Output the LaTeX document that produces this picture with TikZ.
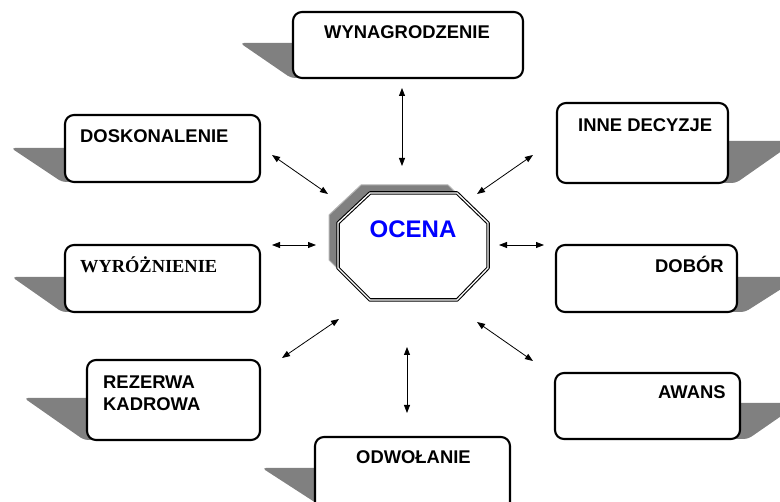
\documentclass[tikz,border=0pt]{standalone}
\usepackage{fontspec}
\setmainfont{Liberation Sans}
\newfontfamily\timesfont{Liberation Serif}
\usetikzlibrary{arrows.meta}
\definecolor{shadegray}{RGB}{128,128,128}
\definecolor{edgegray}{RGB}{180,180,180}
\definecolor{ocenablue}{RGB}{0,0,255}
\tikzset{
  box/.style={draw, line width=2.1pt, rounded corners=9pt, fill=white, inner sep=0pt},
  shade/.style={fill=shadegray, rounded corners=4pt},
  txt/.style={inner sep=0pt, font=\fontsize{18.4}{21.5}\selectfont\bfseries},
  txtserif/.style={inner sep=0pt, font=\timesfont\fontsize{18.4}{21.5}\selectfont\bfseries},
  link/.style={<->, line width=0.8pt}
}

\begin{document}
\begin{tikzpicture}[line cap=round,line join=round,>={Triangle[length=8pt,width=6pt]},x=1pt,y=-1pt]
\clip (0,0) rectangle (780,502);
% shadows of the boxes
\fill[shade] (303,43) -- (240,43) -- (291,78) -- (303,78) -- cycle;
\fill[shade] (75,148) -- (11,148) -- (62,182) -- (75,182) -- cycle;
\fill[shade] (75,277) -- (12,277) -- (62,312) -- (75,312) -- cycle;
\fill[shade] (97,398) -- (24,398) -- (84,440) -- (97,440) -- cycle;
\fill[shade] (330,468) -- (262,468) -- (330,512) -- cycle;
\fill[shade] (718,141) -- (796,141) -- (736,183) -- (718,183) -- cycle;
\fill[shade] (727,277) -- (800,277) -- (745,312) -- (727,312) -- cycle;
\fill[shade] (730,403) -- (800,403) -- (748,439) -- (730,439) -- cycle;
% boxes
\node[box, minimum width=230pt, minimum height=66pt] (wyn) at (408,45) {};
\node[box, minimum width=195pt, minimum height=67pt] (dos) at (162.5,148.5) {};
\node[box, minimum width=171pt, minimum height=80pt] (inne) at (642.5,143) {};
\node[box, minimum width=195pt, minimum height=67pt] (wyr) at (162.5,278.5) {};
\node[box, minimum width=181pt, minimum height=67pt] (dob) at (646.5,278.5) {};
\node[box, minimum width=173pt, minimum height=80pt] (rez) at (173.5,400) {};
\node[box, minimum width=185pt, minimum height=66pt] (awans) at (647.5,406) {};
\node[box, minimum width=195pt, minimum height=80pt] (odw) at (412.5,477) {};
% texts
\node[txt, anchor=base] (wynt) at (407,38.5) {WYNAGRODZENIE};
\node[txt, anchor=base west] (dost) at (80,142.5) {DOSKONALENIE};
\node[txt, anchor=base west] (innet) at (578,131.5) {INNE DECYZJE};
\node[txtserif, anchor=base west] (wyrt) at (80,272.5) {WYRÓŻNIENIE};
\node[txt, anchor=base west] (dobt) at (655,272.5) {DOBÓR};
\node[txt, anchor=base west] (rezt) at (103,389) {REZERWA};
\node[txt, anchor=base west] (kadt) at (103,410.5) {KADROWA};
\node[txt, anchor=base west] (awanst) at (658,399) {AWANS};
\node[txt, anchor=base west] (odwt) at (356,464) {ODWOŁANIE};
% octagon
\begin{scope}[shift={(-9,-8)}]
\draw[fill=shadegray, draw=edgegray, line width=1pt] (370,193) -- (457,193) -- (488,223) -- (488,268) -- (457,300) -- (370,300) -- (338,268) -- (338,223) -- cycle;
\end{scope}
\draw[fill=white, double, line width=1.1pt, double distance=1.3pt] (370,193) -- (457,193) -- (488,223) -- (488,268) -- (457,300) -- (370,300) -- (338,268) -- (338,223) -- cycle;
\node[inner sep=0pt, anchor=base, text=ocenablue, font=\fontsize{24}{28}\selectfont\bfseries] (ocena) at (413,237.6) {OCENA};
% arrows
\coordinate (wynA) at (402,88);   \coordinate (wynB) at (402,166);
\coordinate (dosA) at (272,155);  \coordinate (dosB) at (328,194);
\coordinate (inneA) at (533,155); \coordinate (inneB) at (477,194);
\coordinate (wyrA) at (272,245);  \coordinate (wyrB) at (316,245);
\coordinate (dobA) at (544,245);  \coordinate (dobB) at (499,245);
\coordinate (rezA) at (282,358);  \coordinate (rezB) at (339,319);
\coordinate (awansA) at (533,361); \coordinate (awansB) at (477,322);
\coordinate (odwA) at (407,413);  \coordinate (odwB) at (407,347);
\foreach \n in {wyn,dos,inne,wyr,dob,rez,awans,odw}
  \draw[link] (\n A) -- (\n B);
\end{tikzpicture}
\end{document}
